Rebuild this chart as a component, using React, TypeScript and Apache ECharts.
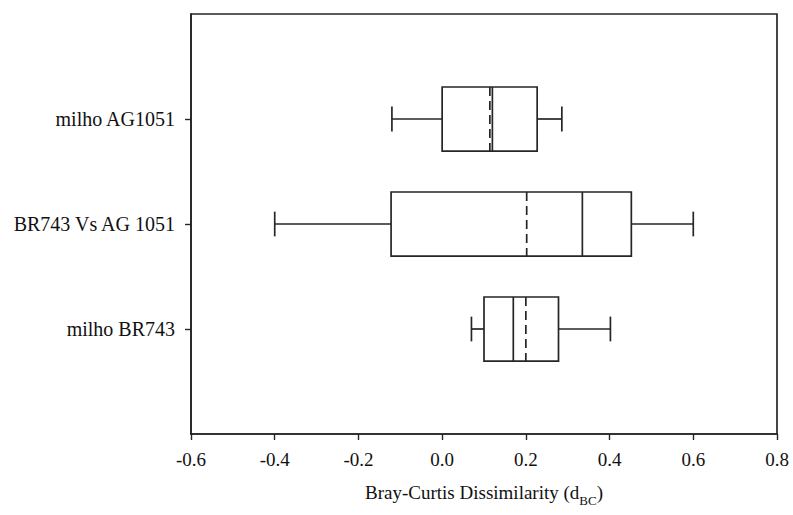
import React, { useEffect, useRef } from "react";
import * as echarts from "echarts";

// Rows from bottom to top of the plot (y positions 1, 2, 3)
const categories = ["milho BR743", "BR743 Vs AG 1051", "milho AG1051"];
const whiskerLow = [0.07, -0.4, -0.12];
const q1 = [0.1, -0.122, 0.0];
const median = [0.17, 0.335, 0.12];
const mean = [0.2, 0.202, 0.114];
const q3 = [0.278, 0.452, 0.227];
const whiskerHigh = [0.402, 0.6, 0.286];
const xTicks = [-0.6, -0.4, -0.2, 0.0, 0.2, 0.4, 0.6, 0.8];

const INK = "#262626";
const FONT = "'Liberation Serif', 'Times New Roman', serif";

export default function App() {
  const ref = useRef<HTMLDivElement>(null);

  useEffect(() => {
    if (!ref.current) return;
    const chart = echarts.init(ref.current, undefined, { renderer: "svg" });

    const rows = categories.map((_, i) => [
      i + 1,
      whiskerLow[i],
      q1[i],
      median[i],
      mean[i],
      q3[i],
      whiskerHigh[i],
    ]);

    const renderItem = (params: any, api: any) => {
      const y = api.value(0);
      const lo = api.value(1);
      const a = api.value(2);
      const med = api.value(3);
      const mu = api.value(4);
      const b = api.value(5);
      const hi = api.value(6);
      const half = api.size([0, 0.305])[1];
      const capHalf = api.size([0, 0.118])[1];
      const P = (v: number) => api.coord([v, y]);
      const pLo = P(lo), pA = P(a), pMed = P(med), pMu = P(mu), pB = P(b), pHi = P(hi);
      const cy = pA[1];
      const stroke = { stroke: INK, lineWidth: 1.7, fill: null };
      const line = (x1: number, y1: number, x2: number, y2: number, extra: any = {}) => ({
        type: "line",
        shape: { x1, y1, x2, y2 },
        style: { ...stroke, ...extra },
      });
      return {
        type: "group",
        children: [
          line(pLo[0], cy, pA[0], cy),
          line(pB[0], cy, pHi[0], cy),
          line(pLo[0], cy - capHalf, pLo[0], cy + capHalf),
          line(pHi[0], cy - capHalf, pHi[0], cy + capHalf),
          {
            type: "rect",
            shape: { x: pA[0], y: cy - half, width: pB[0] - pA[0], height: 2 * half },
            style: { stroke: INK, lineWidth: 1.7, fill: "#ffffff" },
          },
          line(pMed[0], cy - half, pMed[0], cy + half),
          line(pMu[0], cy - half, pMu[0], cy + half, { lineDash: [9, 5] }),
        ],
      };
    };

    chart.setOption({
      animation: false,
      backgroundColor: "#ffffff",
      grid: {
        left: 191,
        right: 16,
        top: 14,
        bottom: 81,
        show: true,
        borderColor: INK,
        borderWidth: 1.7,
        backgroundColor: "transparent",
      },
      xAxis: {
        type: "value",
        min: -0.6,
        max: 0.8,
        interval: 0.2,
        axisLine: { show: true, onZero: false, lineStyle: { color: INK, width: 1.7 } },
        axisTick: {
          show: true,
          inside: false,
          length: 6,
          customValues: xTicks,
          lineStyle: { color: INK, width: 1.4 },
        },
        axisLabel: {
          customValues: xTicks,
          formatter: (v: number) => v.toFixed(1),
          color: "#111111",
          fontFamily: FONT,
          fontSize: 19,
          margin: 16,
        },
        splitLine: { show: false },
        name: "{a|Bray-Curtis Dissimilarity (d}{b|BC}{a|)}",
        nameLocation: "middle",
        nameGap: 49,
        nameTextStyle: {
          rich: {
            a: { fontFamily: FONT, fontSize: 19, color: "#111111", lineHeight: 24, verticalAlign: "top" },
            b: { fontFamily: FONT, fontSize: 13, color: "#111111", lineHeight: 24, verticalAlign: "bottom", padding: [3, 0, 0, 0] },
          },
        },
      },
      yAxis: {
        type: "value",
        min: 0,
        max: 4,
        interval: 1,
        axisLine: { show: true, onZero: false, lineStyle: { color: INK, width: 1.7 } },
        axisTick: {
          show: true,
          length: 6,
          customValues: [1, 2, 3],
          lineStyle: { color: INK, width: 1.4 },
        },
        axisLabel: {
          customValues: [1, 2, 3],
          formatter: (v: number) => categories[Math.round(v) - 1] ?? "",
          color: "#111111",
          fontFamily: FONT,
          fontSize: 20,
          margin: 16,
        },
        splitLine: { show: false },
      },
      series: [
        {
          type: "custom",
          renderItem,
          encode: { x: [1, 2, 3, 4, 5, 6], y: 0 },
          data: rows,
          clip: false,
        },
      ],
    });

    return () => chart.dispose();
  }, []);

  return <div ref={ref} style={{ width: 793, height: 515, position: "absolute", left: 0, top: 0 }} />;
}
